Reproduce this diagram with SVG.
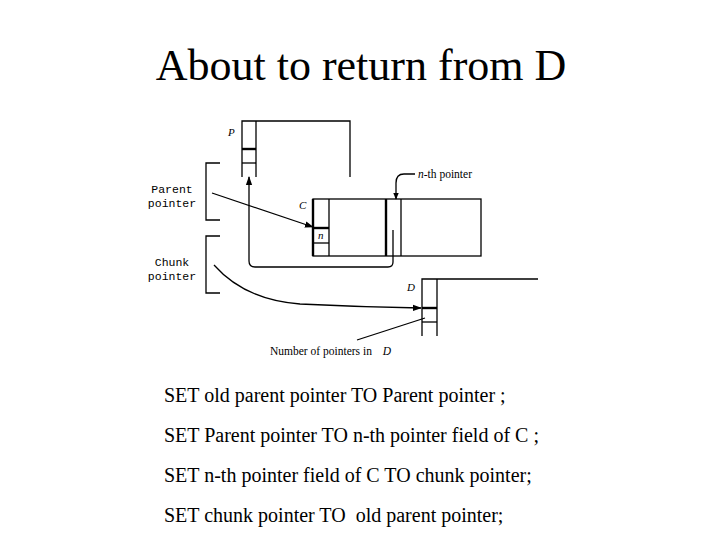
<svg xmlns="http://www.w3.org/2000/svg" width="720" height="540" viewBox="0 0 720 540">
<defs>
<marker id="ah" viewBox="0 0 10 10" refX="9" refY="5" markerWidth="7" markerHeight="7" markerUnits="userSpaceOnUse" orient="auto"><path d="M0,1 L10,5 L0,9 Z" fill="#000"/></marker>
<marker id="ahl" viewBox="0 0 10 10" refX="9" refY="5" markerWidth="9" markerHeight="9" markerUnits="userSpaceOnUse" orient="auto"><path d="M0,1.5 L10,5 L0,8.5 Z" fill="#000"/></marker>
</defs>
<style>
.ln{stroke:#000;stroke-width:1.3;fill:none}
.tk{stroke:#000;stroke-width:2.4;fill:none}
.title{font-family:"Liberation Serif",serif;font-size:44px;fill:#000}
.body{font-family:"Liberation Serif",serif;font-size:20px;fill:#000}
.mono{font-family:"Liberation Mono",monospace;font-size:11.5px;fill:#000}
.it{font-family:"Liberation Serif",serif;font-style:italic;font-size:11px;fill:#000}
.sm{font-family:"Liberation Serif",serif;font-size:11.5px;fill:#000}
</style>
<rect width="720" height="540" fill="#fff"/>
<text class="title" x="361" y="80" text-anchor="middle">About to return from D</text>

<g id="P">
<path class="ln" d="M242,177 V121 H350 V177"/>
<line class="ln" x1="256" y1="121" x2="256" y2="177"/>
<line class="tk" x1="242" y1="149" x2="256" y2="149"/>
<line class="ln" x1="242" y1="163" x2="256" y2="163"/>
<text class="it" x="228" y="136">P</text>
</g>

<g id="parent-pointer">
<path class="ln" d="M220,163 H206 V220 H220"/>
<text class="mono" x="172" y="193" text-anchor="middle">Parent</text>
<text class="mono" x="172" y="207" text-anchor="middle">pointer</text>
</g>

<g id="chunk-pointer">
<path class="ln" d="M220,236 H206 V293 H220"/>
<text class="mono" x="172" y="266" text-anchor="middle">Chunk</text>
<text class="mono" x="172" y="280" text-anchor="middle">pointer</text>
</g>

<g id="C">
<rect class="ln" x="313" y="199" width="168" height="57"/>
<line class="tk" x1="313" y1="199" x2="313" y2="256"/>
<line class="ln" x1="329" y1="199" x2="329" y2="256"/>
<line class="tk" x1="313" y1="228" x2="329" y2="228"/>
<line class="ln" x1="313" y1="243" x2="329" y2="243"/>
<line class="tk" x1="386" y1="199" x2="386" y2="256"/>
<line class="ln" x1="401" y1="199" x2="401" y2="256"/>
<text class="it" x="299" y="209">C</text>
<text class="it" x="318" y="239">n</text>
</g>

<g id="D">
<path class="ln" d="M422,336 V279 H538"/>
<line class="ln" x1="437" y1="279" x2="437" y2="336"/>
<line class="tk" x1="422" y1="308" x2="437" y2="308"/>
<line class="ln" x1="422" y1="322" x2="437" y2="322"/>
<text class="it" x="407" y="291">D</text>
</g>

<g id="nth-label">
<text class="sm" x="418" y="178"><tspan font-style="italic">n</tspan>-th pointer</text>
</g>

<g id="count-label">
<text class="sm" x="270" y="355">Number of pointers in <tspan dx="8" font-style="italic">D</tspan></text>
</g>

<g id="connectors">
<line class="ln" x1="212" y1="193" x2="313" y2="227" marker-end="url(#ahl)"/>
<path class="ln" d="M393,230 V262 Q393,267 388,267 H255 Q249,267 249,261 V177" marker-end="url(#ahl)"/>
<path class="ln" d="M415,174 H404 Q396,174 396,183 V199" marker-end="url(#ah)"/>
<path class="ln" d="M214,265 Q245,300 300,304 Q360,307 421,308" marker-end="url(#ahl)"/>
<line class="ln" x1="357" y1="340" x2="425" y2="318"/>
</g>

<g id="code">
<text class="body" x="164" y="402">SET old parent pointer TO Parent pointer ;</text>
<text class="body" x="164" y="442">SET Parent pointer TO n-th pointer field of C ;</text>
<text class="body" x="164" y="482">SET n-th pointer field of C TO chunk pointer;</text>
<text class="body" x="164" y="522" xml:space="preserve">SET chunk pointer TO  old parent pointer;</text>
</g>
</svg>
